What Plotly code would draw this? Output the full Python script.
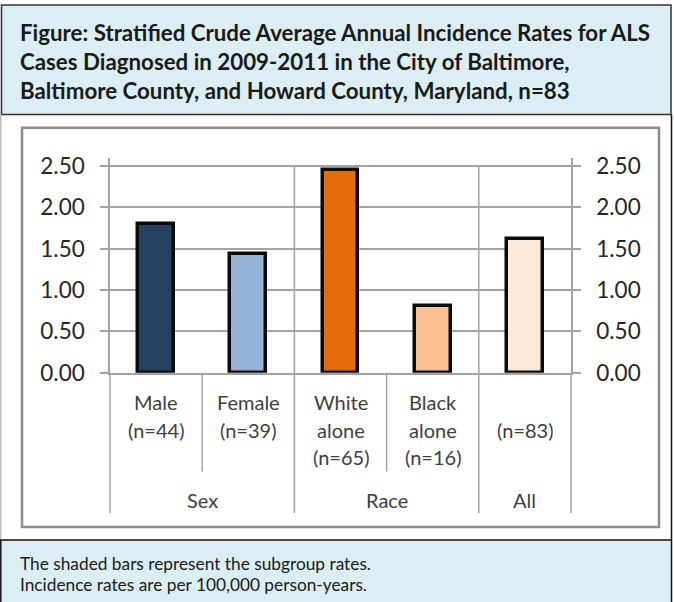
import plotly.graph_objects as go

# ---- data ----
categories = ["Male", "Female", "White alone", "Black alone", "All"]
rates = [1.80, 1.44, 2.46, 0.81, 1.62]
bar_colors = ["#254061", "#95B3D7", "#E46C0A", "#FAC090", "#FDE9D9"]
label_lines = [["Male", "(n=44)"], ["Female", "(n=39)"],
               ["White", "alone", "(n=65)"], ["Black", "alone", "(n=16)"],
               ["", "(n=83)"]]
groups = ["Sex", "Race", "All"]
group_sizes = [2, 2, 1]
y_ticks = [0, 0.5, 1.0, 1.5, 2.0, 2.5]
y_ticktext = ["0.00", "0.50", "1.00", "1.50", "2.00", "2.50"]
title_lines = ["Figure: Stratified Crude Average Annual Incidence Rates for ALS",
               "Cases Diagnosed in 2009-2011 in the City of Baltimore,",
               "Baltimore County, and Howard County, Maryland, n=83"]
footer_lines = ["The shaded bars represent the subgroup rates.",
                "Incidence rates are per 100,000 person-years."]

W, H = 674, 602
def px(x): return x / W
def py(y): return 1 - y / H

FONT = "Lato"
x_left, x_right = 110, 571
y_zero, y_top = 372.7, 157.9
n = len(categories)
cw = (x_right - x_left) / n

fig = go.Figure()
fig.add_trace(go.Bar(
    x=list(range(n)), y=rates, width=0.39,
    marker=dict(color=bar_colors, line=dict(color="#0A0A0A", width=3.5)),
    showlegend=False, hoverinfo="skip"))
fig.add_trace(go.Scatter(x=[0], y=[0], yaxis="y2", mode="markers",
                         marker=dict(opacity=0), showlegend=False, hoverinfo="skip"))

grid = "#A3A3A3"
axis_common = dict(range=[0, 2.6], tickvals=y_ticks, ticktext=y_ticktext,
                   showgrid=True, gridcolor=grid, gridwidth=1.5,
                   showline=True, linecolor=grid, linewidth=1.5,
                   ticks="outside", ticklen=8, tickcolor=grid, tickwidth=1.5,
                   tickfont=dict(family=FONT, size=22.5, color="#262626"),
                   ticklabelstandoff=11, automargin=False,
                   zeroline=False, fixedrange=True,
                   domain=[py(y_zero), py(y_top)])

fig.update_layout(
    template="none",
    width=W, height=H, margin=dict(l=0, r=0, t=0, b=0, pad=0, autoexpand=False),
    paper_bgcolor="white", plot_bgcolor="white",
    bargap=0,
    xaxis=dict(range=[-0.5, n - 0.5], domain=[px(x_left), px(x_right)],
               showticklabels=False, ticks="", showgrid=False, zeroline=False,
               automargin=False, fixedrange=True,
               showline=True, linecolor=grid, linewidth=1.5),
    yaxis=dict(side="left", anchor="x", **axis_common),
    yaxis2=dict(side="right", anchor="x", overlaying="y", **axis_common),
)

shapes = []
# header box
shapes.append(dict(type="rect", xref="paper", yref="paper", layer="below",
                   x0=px(1.5), x1=px(671), y0=py(114.5), y1=py(5),
                   fillcolor="#DBEEF3", line=dict(color="#333333", width=1.5)))
# middle area borders
shapes.append(dict(type="line", xref="paper", yref="paper", layer="below",
                   x0=px(0.8), x1=px(0.8), y0=py(114.5), y1=py(540),
                   line=dict(color="#BBBBBB", width=1.5)))
shapes.append(dict(type="line", xref="paper", yref="paper", layer="below",
                   x0=px(671.5), x1=px(671.5), y0=py(114.5), y1=py(540),
                   line=dict(color="#111111", width=1.5)))
# footer box
shapes.append(dict(type="rect", xref="paper", yref="paper", layer="below",
                   x0=px(0.8), x1=px(671.5), y0=py(615), y1=py(540),
                   fillcolor="#DBEEF3", line=dict(color="#111111", width=1.5)))
# inner chart box
shapes.append(dict(type="rect", xref="paper", yref="paper", layer="below",
                   x0=px(22), x1=px(659), y0=py(527), y1=py(127.8),
                   line=dict(color="#8C8C8C", width=2.5)))

# group boundary lines inside plot, and category dividers below axis
bounds = [0]
for s in group_sizes:
    bounds.append(bounds[-1] + s)
for b in bounds[1:-1]:
    shapes.append(dict(type="line", xref="x", yref="y", layer="below",
                       x0=b - 0.5, x1=b - 0.5, y0=0, y1=2.5,
                       line=dict(color=grid, width=1.5)))
for b in range(n + 1):
    xpx = x_left + b * cw
    y_end = 513 if b in bounds else 471.5
    shapes.append(dict(type="line", xref="paper", yref="paper",
                       x0=px(xpx), x1=px(xpx), y0=py(y_zero), y1=py(y_end),
                       line=dict(color=grid, width=1.5)))
fig.update_layout(shapes=shapes)

ann = []
for i, t in enumerate(title_lines):
    ann.append(dict(xref="paper", yref="paper", x=px(18), y=py(33 + 28.6 * i),
                    xanchor="left", yanchor="middle", showarrow=False, text=t,
                    font=dict(family=FONT, size=22.3, color="#1A1A1A", weight="bold")))
for i, t in enumerate(footer_lines):
    ann.append(dict(xref="paper", yref="paper", x=px(18), y=py(563 + 21.5 * i),
                    xanchor="left", yanchor="middle", showarrow=False, text=t,
                    font=dict(family=FONT, size=17.3, color="#1A1A1A")))
for i, lines in enumerate(label_lines):
    for k, t in enumerate(lines):
        if t:
            ann.append(dict(xref="x", yref="paper", x=i, y=py(402 + 27.5 * k),
                            xanchor="center", yanchor="middle", showarrow=False, text=t,
                            font=dict(family=FONT, size=20, color="#404040")))
for g, name in enumerate(groups):
    center = (bounds[g] + bounds[g + 1] - 1) / 2
    ann.append(dict(xref="x", yref="paper", x=center, y=py(500),
                    xanchor="center", yanchor="middle", showarrow=False, text=name,
                    font=dict(family=FONT, size=20, color="#404040")))
fig.update_layout(annotations=ann)

fig.write_html("out.html", config={"displayModeBar": False, "responsive": False},
               post_script="document.body.style.margin='0px';")
